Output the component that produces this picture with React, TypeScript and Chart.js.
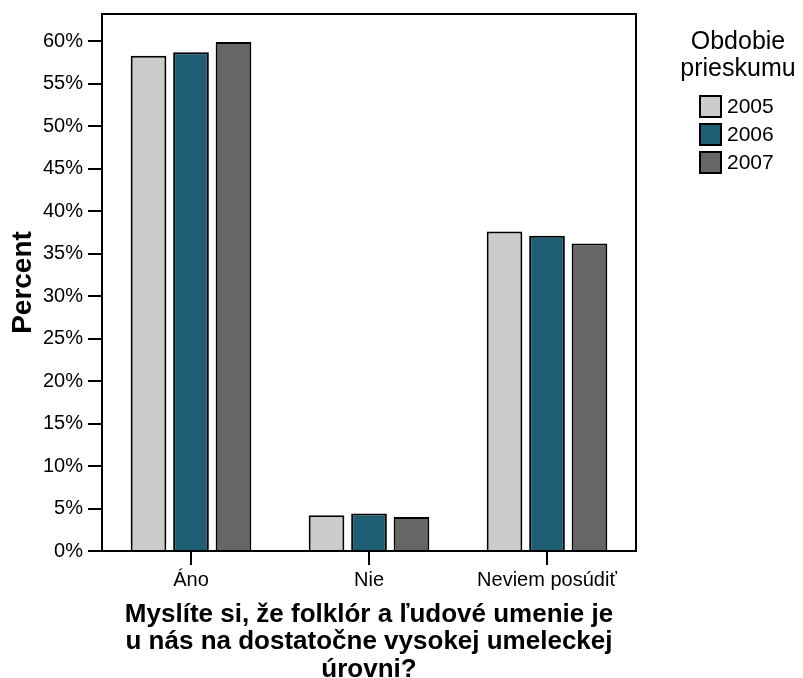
import { useEffect, useRef } from 'react';
import { Chart, registerables } from 'chart.js';

Chart.register(...registerables);

const categories = ['Áno', 'Nie', 'Neviem posúdiť'];
const seriesLabels = ['2005', '2006', '2007'];
const values2005 = [58.3, 4.2, 37.6];
const values2006 = [58.7, 4.4, 37.1];
const values2007 = [59.9, 4.0, 36.2];
const seriesColors = ['#cccccc', '#1d5e74', '#666666'];
const yTickValues = [0, 5, 10, 15, 20, 25, 30, 35, 40, 45, 50, 55, 60];
const yMax = 63.2;
const yTitle = 'Percent';
const xTitleLines = [
  'Myslíte si, že folklór a ľudové umenie je',
  'u nás na dostatočne vysokej umeleckej',
  'úrovni?',
];
const legendTitleLines = ['Obdobie', 'prieskumu'];

const FONT = '"Liberation Sans", Arial, sans-serif';

const framePlugin = {
  id: 'frame',
  afterDraw(chart: any) {
    const { ctx, chartArea } = chart;
    ctx.save();
    ctx.strokeStyle = '#000';
    ctx.lineWidth = 2;
    ctx.beginPath();
    ctx.moveTo(chartArea.left, chartArea.top);
    ctx.lineTo(chartArea.right, chartArea.top);
    ctx.lineTo(chartArea.right, chartArea.bottom);
    ctx.stroke();
    ctx.restore();
  },
};

const legendPlugin = {
  id: 'customLegend',
  afterDraw(chart: any) {
    const { ctx } = chart;
    ctx.save();
    ctx.fillStyle = '#000';
    ctx.textAlign = 'center';
    ctx.textBaseline = 'alphabetic';
    ctx.font = `25px ${FONT}`;
    const cx = 738;
    legendTitleLines.forEach((t, i) => {
      ctx.fillText(t, cx, 49 + i * 27);
    });
    const boxX = 700;
    const boxSize = 21;
    const rowTop = 96;
    const pitch = 28;
    ctx.font = `21px ${FONT}`;
    ctx.textAlign = 'left';
    ctx.textBaseline = 'middle';
    chart.data.datasets.forEach((ds: any, i: number) => {
      const y = rowTop + i * pitch;
      ctx.fillStyle = ds.backgroundColor;
      ctx.fillRect(boxX, y, boxSize, boxSize);
      ctx.strokeStyle = '#000';
      ctx.lineWidth = 2;
      ctx.strokeRect(boxX, y, boxSize, boxSize);
      ctx.fillStyle = '#000';
      ctx.fillText(ds.label, boxX + boxSize + 6, y + boxSize / 2 + 1);
    });
    ctx.restore();
  },
};

export default function App() {
  const canvasRef = useRef<HTMLCanvasElement | null>(null);

  useEffect(() => {
    if (!canvasRef.current) return;
    const allValues = [values2005, values2006, values2007];
    const chart = new Chart(canvasRef.current, {
      type: 'bar',
      data: {
        labels: categories,
        datasets: seriesLabels.map((label, i) => ({
          label,
          data: allValues[i],
          backgroundColor: seriesColors[i],
          borderColor: '#000',
          borderWidth: 2,
          categoryPercentage: 0.716,
          barPercentage: 0.84,
        })),
      },
      options: {
        animation: false,
        responsive: true,
        maintainAspectRatio: false,
        devicePixelRatio: 1,
        layout: { padding: { top: 14, right: 167, left: 0, bottom: 0 } },
        plugins: {
          legend: { display: false },
          tooltip: { enabled: false },
        },
        scales: {
          x: {
            type: 'category',
            afterFit(scale: any) {
              scale.height = 127;
              scale.paddingLeft = 0;
              scale.paddingRight = 0;
            },
            grid: {
              display: true,
              offset: false,
              drawOnChartArea: false,
              drawTicks: true,
              tickLength: 14,
              color: '#000',
              lineWidth: 2,
            },
            border: { display: true, color: '#000', width: 2 },
            ticks: {
              color: '#000',
              font: { family: FONT, size: 20 },
              padding: 3,
              maxRotation: 0,
              autoSkip: false,
            },
            title: {
              display: true,
              text: xTitleLines,
              color: '#000',
              font: { family: FONT, size: 26, weight: 'bold', lineHeight: 1.05 },
              padding: { top: 0, bottom: -5 },
            },
          },
          y: {
            type: 'linear',
            min: 0,
            max: yMax,
            afterFit(scale: any) {
              scale.width = 102;
              scale.paddingTop = 0;
              scale.paddingBottom = 0;
            },
            afterBuildTicks(scale: any) {
              scale.ticks = yTickValues.map((v) => ({ value: v }));
            },
            grid: {
              display: true,
              drawOnChartArea: false,
              drawTicks: true,
              tickLength: 14,
              color: '#000',
              lineWidth: 2,
            },
            border: { display: true, color: '#000', width: 2 },
            ticks: {
              color: '#000',
              font: { family: FONT, size: 20 },
              padding: 5,
              callback: (v: any) => `${v}%`,
            },
            title: {
              display: true,
              text: yTitle,
              color: '#000',
              font: { family: FONT, size: 28, weight: 'bold' },
              padding: { top: 6, bottom: 0 },
            },
          },
        },
      },
      plugins: [framePlugin, legendPlugin],
    } as any);
    return () => chart.destroy();
  }, []);

  return (
    <div style={{ position: 'fixed', left: 0, top: 0, width: 803, height: 678, background: '#fff' }}>
      <canvas ref={canvasRef} />
    </div>
  );
}
